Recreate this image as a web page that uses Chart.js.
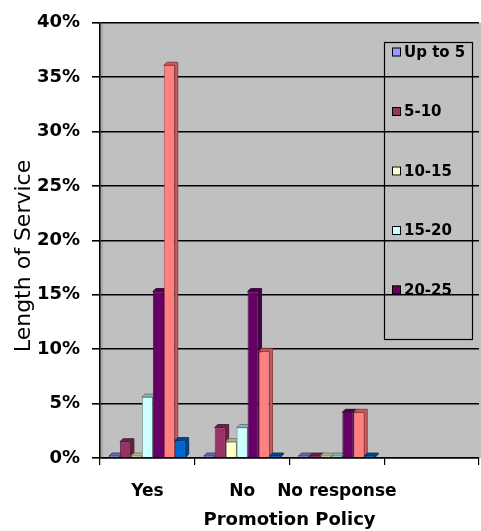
<!DOCTYPE html>
<html lang="en">
<head>
    <meta charset="UTF-8">
    <title>Length of Service by Promotion Policy</title>
    <script src="https://cdn.jsdelivr.net/npm/chart.js"></script>
    <style>
        html, body { margin: 0; padding: 0; background: #fff; }
        #wrap { width: 481px; height: 531px; }
    </style>
</head>
<body>
    <div id="wrap"><canvas id="grafico"></canvas></div>

    <script>
        // categorias do eixo x (a quarta fica vazia, como no original)
        const categorias = ['Yes', 'No', 'No response', ''];

        // valores em %
        const ate5 = [0, 0, 0, null];
        const de5a10 = [1.5, 2.8, 0, null];
        const de10a15 = [0, 1.5, 0, null];
        const de15a20 = [5.6, 2.8, 0, null];
        const de20a25 = [15.3, 15.3, 4.2, null];
        const de25a30 = [36.1, 9.8, 4.2, null];
        const acima30 = [1.6, 0, 0, null];

        const rotulosSerie = ['Up to 5', '5-10', '10-15', '15-20', '20-25', '25-30', '30 & above'];
        const ticksY = [0, 5, 10, 15, 20, 25, 30, 35, 40];

        const cores = ['#9999FF', '#993366', '#FFFFCC', '#CCFFFF', '#660066', '#FF8080', '#0066CC'];
        const lados = ['#6b6bb3', '#6b2447', '#b3b38f', '#8fb3b3', '#470047', '#c05e5e', '#00478f'];
        const bordas = ['#333366', '#3d0f26', '#6f6f55', '#557070', '#2a002a', '#8a3030', '#002a55'];
        const series = [ate5, de5a10, de10a15, de15a20, de20a25, de25a30, acima30];

        const PROF = 3; // profundidade do efeito 3d

        // fundo cinza da area de plotagem
        const fundoPlot = {
            id: 'fundoPlot',
            beforeDraw(chart) {
                const a = chart.chartArea;
                const ctx = chart.ctx;
                ctx.save();
                ctx.fillStyle = '#C0C0C0';
                ctx.fillRect(a.left, a.top, a.right - a.left + 2, a.bottom - a.top);
                ctx.fillStyle = '#a8a8a8';
                ctx.fillRect(a.left, a.top, 3, a.bottom - a.top);
                ctx.restore();
            }
        };

        // lateral e topo das barras, desenhados por tras das frentes
        const barras3d = {
            id: 'barras3d',
            beforeDatasetsDraw(chart) {
                const ctx = chart.ctx;
                ctx.save();
                chart.data.datasets.forEach((ds, i) => {
                    chart.getDatasetMeta(i).data.forEach((bar, j) => {
                        if (ds.data[j] === null) return;
                        const l = bar.x - bar.width / 2, r = bar.x + bar.width / 2;
                        const t = bar.y, b = bar.base;
                        ctx.lineWidth = 0.8;
                        ctx.strokeStyle = bordas[i];
                        ctx.fillStyle = lados[i];
                        ctx.beginPath();
                        ctx.moveTo(r, b);
                        ctx.lineTo(r + PROF, b - PROF);
                        ctx.lineTo(r + PROF, t - PROF);
                        ctx.lineTo(l + PROF, t - PROF);
                        ctx.lineTo(l, t);
                        ctx.lineTo(r, t);
                        ctx.closePath();
                        ctx.fill();
                        ctx.stroke();
                    });
                });
                ctx.restore();
            }
        };

        // legenda e titulo do eixo y desenhados a mao
        const legendaBox = {
            id: 'legendaBox',
            afterDraw(chart) {
                const ctx = chart.ctx;
                ctx.save();
                ctx.strokeStyle = '#000';
                ctx.lineWidth = 1.2;
                ctx.strokeRect(384.5, 42.5, 88, 297);
                ctx.font = 'bold 15px "DejaVu Sans"';
                ctx.textBaseline = 'middle';
                for (let i = 0; i < 5; i++) {
                    const y = 52 + i * 59.5;
                    const ds = chart.data.datasets[i];
                    ctx.fillStyle = ds.backgroundColor;
                    ctx.fillRect(392, y - 4.5, 9, 9);
                    ctx.strokeStyle = '#000';
                    ctx.lineWidth = 1;
                    ctx.strokeRect(392.5, y - 4, 8, 8);
                    ctx.fillStyle = '#000';
                    ctx.fillText(ds.label, 404, y + 1);
                }
                // titulo do eixo y, sobreposto aos rotulos como no original
                ctx.translate(24, 256);
                ctx.rotate(-Math.PI / 2);
                ctx.textAlign = 'center';
                ctx.font = '22px "DejaVu Sans"';
                ctx.fillText('Length of Service', 0, 0);
                ctx.restore();
            }
        };

        const grafico = new Chart(document.getElementById('grafico'), {
            type: 'bar',
            data: {
                labels: categorias,
                datasets: series.map((dados, i) => ({
                    label: rotulosSerie[i],
                    data: dados,
                    backgroundColor: cores[i],
                    borderColor: bordas[i],
                    borderWidth: 0.8,
                    minBarLength: 2,
                    categoryPercentage: 0.81,
                    barPercentage: 1.0
                }))
            },
            options: {
                responsive: true,
                maintainAspectRatio: false,
                animation: false,
                layout: { padding: { top: 21, right: 2, left: 0, bottom: 0 } },
                plugins: {
                    legend: { display: false },
                    tooltip: { enabled: false }
                },
                scales: {
                    x: {
                        afterFit(scale) { scale.height = 73; },
                        grid: {
                            drawOnChartArea: false,
                            color: '#000',
                            tickLength: 7,
                            lineWidth: 1.2
                        },
                        border: { color: '#000', width: 1.5 },
                        ticks: {
                            color: '#000',
                            padding: 16,
                            maxRotation: 0,
                            autoSkip: false,
                            font: { family: 'DejaVu Sans', size: 17, weight: 'bold' }
                        },
                        title: {
                            display: true,
                            text: 'Promotion Policy',
                            color: '#000',
                            padding: { top: 0, bottom: 0 },
                            font: { family: 'DejaVu Sans', size: 18, weight: 'bold' }
                        }
                    },
                    y: {
                        min: 0,
                        max: 40,
                        afterFit(scale) { scale.width = 100; },
                        afterBuildTicks(scale) {
                            scale.ticks = ticksY.map(v => ({ value: v }));
                        },
                        grid: {
                            color: '#000',
                            lineWidth: 1.6,
                            tickLength: 8
                        },
                        border: { color: '#000', width: 1.5 },
                        ticks: {
                            color: '#000',
                            padding: 12,
                            font: { family: 'DejaVu Sans', size: 18, weight: 'bold' },
                            callback: v => v + '%'
                        }
                    }
                }
            },
            plugins: [fundoPlot, barras3d, legendaBox]
        });
    </script>
</body>
</html>
